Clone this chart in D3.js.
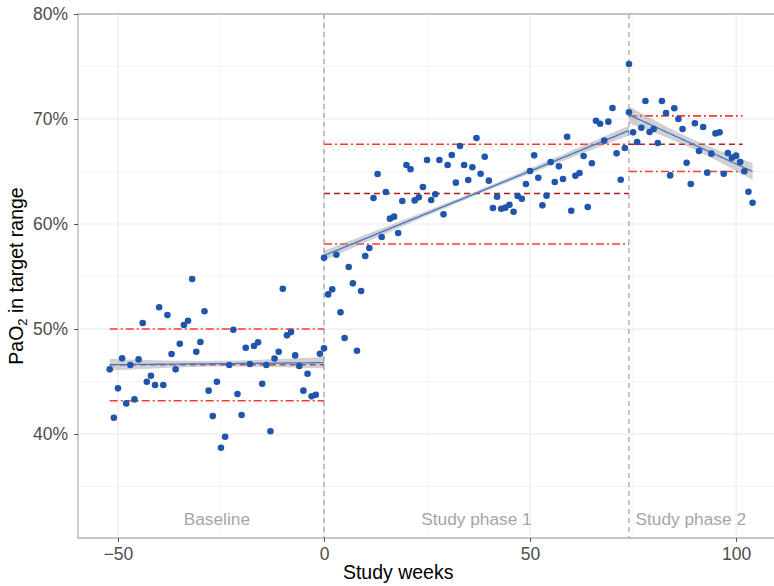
<!DOCTYPE html>
<html>
<head>
<meta charset="utf-8">
<script src="https://cdn.jsdelivr.net/npm/d3@7"></script>
<style>
  body { margin: 0; background: #ffffff; }
  svg { display: block; font-family: "Liberation Sans", Arial, sans-serif; }
</style>
</head>
<body>
<div id="chart"></div>
<script>
// weekly values, PaO2 in target range (%)
var baselineStart = -52;
var baselineValues = [46.16, 41.55, 44.35, 47.21, 42.92, 46.57, 43.3, 47.11, 50.57, 44.98,
    45.55, 44.67, 52.07, 44.67, 51.33, 47.62, 46.16, 48.6, 50.38, 50.79,
    54.76, 47.84, 48.76, 51.69, 44.13, 41.71, 44.98, 38.7, 39.74, 46.57,
    49.93, 43.81, 41.81, 48.22, 46.67, 48.38, 48.73, 44.79, 46.57, 40.26,
    47.2, 47.84, 53.84, 49.4, 49.71, 47.49, 46.48, 44.13, 45.74, 43.59,
    43.74, 47.65, 48.16];

var phase1Start = 0;
var phase1Values = [56.79, 53.3, 53.78, 57.08, 51.59, 49.14, 55.9, 54.35, 47.93, 53.62,
    56.95, 57.71, 62.48, 64.76, 58.76, 63.05, 60.51, 60.7, 59.14, 62.19,
    65.62, 65.21, 62.25, 62.54, 63.52, 66.1, 62.29, 62.83, 66.1, 60.92,
    65.62, 66.57, 63.94, 67.43, 65.62, 64.19, 65.4, 68.19, 64.79, 66.41,
    64.13, 61.52, 62.6, 61.46, 61.56, 61.84, 61.17, 62.67, 62.41, 63.81,
    65.05, 66.54, 64.41, 61.78, 62.7, 65.9, 64.0, 65.49, 64.29, 68.31,
    61.27, 64.6, 64.86, 66.48, 61.62, 65.78, 69.84, 69.55, 67.94, 69.75,
    71.05, 66.73, 64.22, 67.24, 75.24];

var phase2Start = 74;
var phase2Values = [70.64, 68.73, 67.81, 69.17, 71.71, 68.76, 69.05, 67.71, 71.71, 70.57,
    64.63, 71.02, 70.0, 69.05, 65.84, 63.81, 69.59, 66.95, 69.24, 64.89,
    66.7, 68.63, 68.73, 64.79, 66.76, 66.32, 66.51, 65.9, 65.02, 63.08,
    62.03];

// segments: baseline, phase 1, phase 2
var phaseNames = ["Baseline", "Study phase 1", "Study phase 2"];
var segStart = [-52, 0, 74];
var segEnd = [0, 74, 104];
var fitStart = [46.6, 57.0, 70.4];
var fitEnd = [46.8, 68.9, 65.0];
var bandMid = [0.27, 0.2, 0.45];
var bandEnd = [0.55, 0.47, 0.8];

var refEnd = [0, 74, 101.6];
var refMean = [46.6, 62.9, 67.6];
var refUpper = [50.0, 67.6, 70.3];
var refLower = [43.17, 58.1, 65.0];

var phaseBreaks = [0, 74];

var xTicks = [-50, 0, 50, 100];
var xMinor = [-25, 25, 75];
var yTicks = [40, 50, 60, 70, 80];
var yMinor = [35, 45, 55, 65, 75];

var width = 774;
var height = 586;
var pLeft = 78, pRight = 774, pTop = 14, pBottom = 538;

var x = d3.scaleLinear().domain([-59.7, 109.2]).range([pLeft, pRight]);
var y = d3.scaleLinear().domain([30.1, 80]).range([pBottom, pTop]);

var svg = d3.select("#chart")
    .append("svg")
    .attr("width", width)
    .attr("height", height);

// grid
svg.selectAll("line.yminor")
    .data(yMinor).enter().append("line")
    .attr("x1", pLeft).attr("x2", pRight)
    .attr("y1", function(d){ return y(d); }).attr("y2", function(d){ return y(d); })
    .attr("stroke", "#f4f4f4").attr("stroke-width", 1);
svg.selectAll("line.xminor")
    .data(xMinor).enter().append("line")
    .attr("y1", pTop).attr("y2", pBottom)
    .attr("x1", function(d){ return x(d); }).attr("x2", function(d){ return x(d); })
    .attr("stroke", "#f4f4f4").attr("stroke-width", 1);
svg.selectAll("line.ymajor")
    .data(yTicks).enter().append("line")
    .attr("x1", pLeft).attr("x2", pRight)
    .attr("y1", function(d){ return y(d); }).attr("y2", function(d){ return y(d); })
    .attr("stroke", "#ebebeb").attr("stroke-width", 1.2);
svg.selectAll("line.xmajor")
    .data(xTicks).enter().append("line")
    .attr("y1", pTop).attr("y2", pBottom)
    .attr("x1", function(d){ return x(d); }).attr("x2", function(d){ return x(d); })
    .attr("stroke", "#ebebeb").attr("stroke-width", 1.2);

// phase labels
svg.selectAll("text.phase")
    .data(phaseNames).enter().append("text")
    .attr("x", function(d, i){ return x((segStart[i] + segEnd[i]) / 2); })
    .attr("y", 525)
    .attr("text-anchor", "middle")
    .style("fill", "#a6a6a6")
    .style("font-size", "17.3px")
    .text(function(d){ return d; });

// phase breaks
svg.selectAll("line.break")
    .data(phaseBreaks).enter().append("line")
    .attr("y1", pTop).attr("y2", pBottom)
    .attr("x1", function(d){ return x(d); }).attr("x2", function(d){ return x(d); })
    .attr("stroke", "#8c8c8c").attr("stroke-width", 1)
    .attr("stroke-dasharray", "5,4");

// reference lines
function refLines(values, color, dash, cls){
    svg.selectAll("line." + cls)
        .data(values).enter().append("line")
        .attr("class", cls)
        .attr("x1", function(d, i){ return x(segStart[i]); })
        .attr("x2", function(d, i){ return x(refEnd[i]); })
        .attr("y1", function(d){ return y(d); })
        .attr("y2", function(d){ return y(d); })
        .attr("stroke", color)
        .attr("stroke-width", 1.6)
        .attr("stroke-dasharray", dash);
}
refLines(refUpper, "#ff3b30", "8,3,2,3", "upper");
refLines(refLower, "#ff3b30", "8,3,2,3", "lower");
refLines(refMean, "#b01e1e", "6,4", "mean");

// fitted trends with band
segStart.forEach(function(s, i){
    var e = segEnd[i];
    var mid = (s + e) / 2, half = (e - s) / 2;
    var b = (bandEnd[i] * bandEnd[i] - bandMid[i] * bandMid[i]) / (half * half);
    var pts = d3.range(0, 41).map(function(k){
        var w = s + (e - s) * k / 40;
        var f = fitStart[i] + (fitEnd[i] - fitStart[i]) * (w - s) / (e - s);
        var h = Math.sqrt(bandMid[i] * bandMid[i] + b * (w - mid) * (w - mid));
        return {w: w, f: f, lo: f - h, hi: f + h};
    });
    svg.append("path")
        .datum(pts)
        .attr("d", d3.area()
            .x(function(d){ return x(d.w); })
            .y0(function(d){ return y(d.lo); })
            .y1(function(d){ return y(d.hi); }))
        .attr("fill", "#999999")
        .attr("fill-opacity", 0.45);
    svg.append("path")
        .datum(pts)
        .attr("d", d3.line()
            .x(function(d){ return x(d.w); })
            .y(function(d){ return y(d.f); }))
        .attr("fill", "none")
        .attr("stroke", "#4477cc")
        .attr("stroke-width", 1.3);
});

// points
var points = [];
[[baselineStart, baselineValues], [phase1Start, phase1Values], [phase2Start, phase2Values]]
    .forEach(function(p){
        p[1].forEach(function(v, i){ points.push({w: p[0] + i, v: v}); });
    });

svg.selectAll("circle")
    .data(points).enter().append("circle")
    .attr("cx", function(d){ return x(d.w); })
    .attr("cy", function(d){ return y(d.v); })
    .attr("r", 3.3)
    .attr("fill", "#1f55ac");

// panel border
svg.append("path")
    .attr("d", "M" + (pRight + 1) + "," + pTop + "H" + pLeft + "V" + pBottom + "H" + (pRight + 1))
    .attr("fill", "none")
    .attr("stroke", "#b3b3b3")
    .attr("stroke-width", 1.3);

// axes
var xAxis = svg.append("g")
    .attr("transform", "translate(0," + pBottom + ")")
    .call(d3.axisBottom(x).tickValues(xTicks).tickSize(4).tickPadding(6)
        .tickFormat(function(d){ return d < 0 ? "\u2212" + Math.abs(d) : d; }));
var yAxis = svg.append("g")
    .attr("transform", "translate(" + pLeft + ",0)")
    .call(d3.axisLeft(y).tickValues(yTicks).tickSize(4).tickPadding(6)
        .tickFormat(function(d){ return d + "%"; }));

[xAxis, yAxis].forEach(function(a){
    a.select(".domain").remove();
    a.selectAll(".tick line").attr("stroke", "#4d4d4d").attr("stroke-width", 1);
    a.selectAll(".tick text")
        .style("fill", "#4d4d4d")
        .style("font-size", "17.5px")
        .style("font-family", "Liberation Sans, Arial, sans-serif");
});

svg.append("text")
    .attr("x", x(18))
    .attr("y", 579)
    .attr("text-anchor", "middle")
    .style("font-size", "19.5px")
    .style("fill", "#000000")
    .text("Study weeks");

var yl = svg.append("text")
    .attr("transform", "translate(23," + ((pTop + pBottom) / 2) + ") rotate(-90)")
    .attr("text-anchor", "middle")
    .style("font-size", "19.5px")
    .style("fill", "#000000");
yl.append("tspan").text("PaO");
yl.append("tspan").attr("dy", 4).style("font-size", "13px").text("2");
yl.append("tspan").attr("dy", -4).text(" in target range");
</script>
</body>
</html>
